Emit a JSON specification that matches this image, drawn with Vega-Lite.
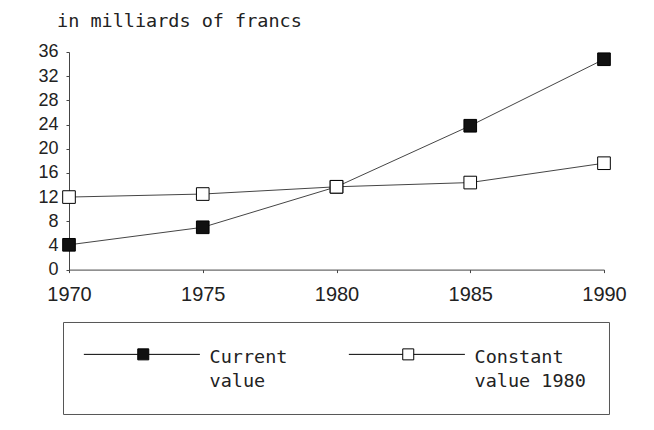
{
  "$schema": "https://vega.github.io/schema/vega-lite/v6.json",
  "width": 535,
  "height": 217.6,
  "autosize": {"type": "none"},
  "padding": {"left": 69, "top": 52, "right": 50, "bottom": 160},
  "background": "white",
  "title": {
    "text": "in milliards of francs",
    "anchor": "start",
    "frame": "group",
    "font": "DejaVu Sans Mono",
    "fontSize": 18.5,
    "fontWeight": "normal",
    "color": "#222",
    "dx": -12,
    "offset": 12
  },
  "data": {
    "values": [
      {"year": 1970, "value": 4.1, "series": "Current value"},
      {"year": 1975, "value": 7.0, "series": "Current value"},
      {"year": 1980, "value": 13.7, "series": "Current value"},
      {"year": 1985, "value": 23.8, "series": "Current value"},
      {"year": 1990, "value": 34.8, "series": "Current value"},
      {"year": 1970, "value": 12.0, "series": "Constant value 1980"},
      {"year": 1975, "value": 12.5, "series": "Constant value 1980"},
      {"year": 1980, "value": 13.7, "series": "Constant value 1980"},
      {"year": 1985, "value": 14.4, "series": "Constant value 1980"},
      {"year": 1990, "value": 17.6, "series": "Constant value 1980"}
    ]
  },
  "encoding": {
    "x": {
      "field": "year",
      "type": "quantitative",
      "scale": {"domain": [1970, 1990], "nice": false, "zero": false},
      "axis": {
        "title": null,
        "values": [1970, 1975, 1980, 1985, 1990],
        "format": "d",
        "grid": false,
        "labelFont": "Liberation Sans",
        "labelFontSize": 20,
        "labelColor": "#222",
        "labelPadding": 12,
        "tickSize": 3,
        "tickColor": "#444",
        "domainColor": "#444",
        "labelFlush": false
      }
    },
    "y": {
      "field": "value",
      "type": "quantitative",
      "scale": {"domain": [0, 36], "nice": false},
      "axis": {
        "title": null,
        "values": [0, 4, 8, 12, 16, 20, 24, 28, 32, 36],
        "grid": false,
        "labelFont": "Liberation Sans",
        "labelFontSize": 18,
        "labelColor": "#222",
        "labelPadding": 8,
        "tickSize": 3,
        "tickColor": "#444",
        "domainColor": "#444"
      }
    }
  },
  "layer": [
    {
      "mark": {"type": "line", "stroke": "#444", "strokeWidth": 1},
      "encoding": {"detail": {"field": "series", "type": "nominal"}}
    },
    {
      "mark": {"type": "point", "shape": "square", "size": 160, "filled": true, "stroke": "black", "strokeWidth": 1, "opacity": 1},
      "encoding": {
        "fill": {
          "field": "series",
          "type": "nominal",
          "scale": {"domain": ["Current value", "Constant value 1980"], "range": ["#111111", "#ffffff"]},
          "legend": {
            "title": null,
            "orient": "none",
            "legendX": -6,
            "legendY": 270,
            "direction": "horizontal",
            "columns": 2,
            "symbolType": "M-10.8,0H-1M1,0H10.3M-1,-1H1V1H-1Z",
            "symbolSize": 121,
            "symbolOffset": 48,
            "symbolStrokeColor": "black",
            "symbolStrokeWidth": 1,
            "symbolOpacity": 1,
            "labelFont": "DejaVu Sans Mono",
            "labelFontSize": 18.5,
            "labelColor": "#222",
            "labelOffset": 57,
            "labelLimit": 0,
            "columnPadding": 58,
            "padding": 23,
            "strokeColor": "#555",
            "labelExpr": "datum.label == 'Current value' ? ['Current', 'value'] : ['Constant', 'value 1980']",
            "encode": {"labels": {"update": {"lineHeight": {"value": 24}, "dy": {"value": 3}}}}
          }
        }
      }
    }
  ],
  "config": {"view": {"stroke": null}}
}
